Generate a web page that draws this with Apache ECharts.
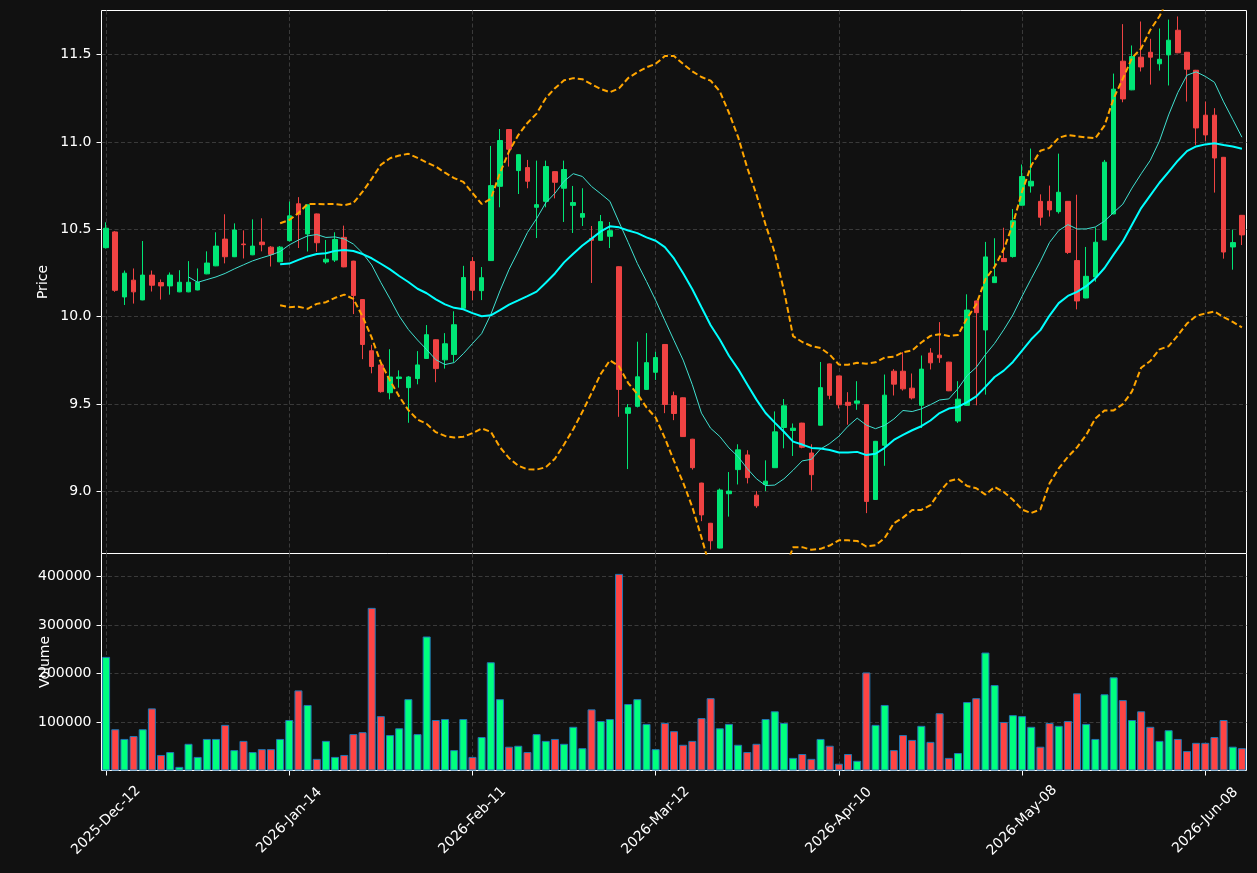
<!DOCTYPE html>
<html>
<head>
<meta charset="utf-8">
<script src="https://cdn.jsdelivr.net/npm/echarts@6/dist/echarts.min.js"></script>
<style>
html,body{margin:0;padding:0;background:#111111;}
#chart{width:1257px;height:873px;}
</style>
</head>
<body>
<div id="chart"></div>
<script>
// ---- data ----
const opens = [10.395,10.485,10.113,10.209,10.096,10.238,10.195,10.176,10.142,10.142,
10.153,10.245,10.291,10.444,10.343,10.416,10.354,10.427,10.398,10.314,
10.435,10.646,10.473,10.588,10.313,10.324,10.454,10.318,10.098,9.805,
9.724,9.565,9.646,9.594,9.646,9.761,9.868,9.753,9.784,10.048,
10.316,10.149,10.321,10.746,11.071,10.836,10.853,10.626,10.660,10.830,
10.735,10.637,10.569,10.448,10.437,10.460,10.286,9.447,9.487,9.584,
9.682,9.841,9.548,9.536,9.299,9.048,8.818,8.676,8.987,9.125,
9.209,8.979,9.040,9.136,9.366,9.349,9.391,9.220,9.379,9.730,
9.661,9.510,9.505,9.497,8.954,9.264,9.688,9.688,9.591,9.493,
9.792,9.780,9.740,9.403,9.493,10.090,9.924,10.195,10.333,10.344,
10.638,10.748,10.660,10.660,10.601,10.660,10.321,10.107,10.227,10.439,
10.588,11.462,11.298,11.485,11.513,11.447,11.498,11.639,11.513,11.410,
11.153,11.153,10.912,10.399,10.580];
const closes = [10.506,10.151,10.249,10.142,10.238,10.180,10.176,10.238,10.197,10.197,
10.197,10.307,10.404,10.343,10.496,10.412,10.404,10.412,10.356,10.398,
10.577,10.584,10.640,10.423,10.329,10.442,10.285,10.121,9.841,9.715,
9.571,9.655,9.655,9.655,9.724,9.897,9.703,9.845,9.954,10.224,
10.151,10.223,10.750,11.008,10.958,10.927,10.775,10.641,10.859,10.769,
10.842,10.653,10.590,10.437,10.544,10.492,9.584,9.479,9.656,9.737,
9.766,9.498,9.446,9.314,9.136,8.866,8.718,9.008,9.002,9.238,
9.079,8.918,9.059,9.341,9.490,9.362,9.253,9.096,9.594,9.550,
9.496,9.493,9.518,8.943,9.287,9.551,9.614,9.587,9.535,9.700,
9.736,9.765,9.576,9.528,10.038,10.023,10.342,10.228,10.315,10.549,
10.802,10.775,10.569,10.611,10.712,10.368,10.090,10.231,10.426,10.884,
11.302,11.246,11.489,11.429,11.485,11.473,11.582,11.510,11.416,11.080,
11.040,10.908,10.370,10.424,10.468];
const lows = [10.390,10.142,10.067,10.075,10.094,10.144,10.098,10.126,10.140,10.140,
10.151,10.243,10.289,10.305,10.341,10.333,10.352,10.374,10.287,10.312,
10.430,10.393,10.373,10.371,10.303,10.313,10.283,10.015,9.757,9.676,
9.565,9.527,9.594,9.393,9.613,9.759,9.625,9.703,9.741,10.046,
10.094,10.095,10.319,10.626,10.859,10.702,10.735,10.450,10.626,10.677,
10.542,10.479,10.519,10.193,10.435,10.393,9.427,9.128,9.481,9.582,
9.638,9.448,9.408,9.312,9.125,8.830,8.667,8.674,8.856,9.040,
9.046,8.906,9.002,9.134,9.247,9.203,9.247,9.006,9.377,9.527,
9.475,9.382,9.467,8.876,8.952,9.147,9.549,9.577,9.526,9.363,
9.698,9.736,9.574,9.392,9.491,9.493,9.554,10.193,10.313,10.338,
10.636,10.710,10.521,10.573,10.590,10.359,10.042,10.105,10.200,10.437,
10.586,11.227,11.296,11.403,11.328,11.408,11.323,11.508,11.231,10.983,
11.006,10.710,10.332,10.269,10.410];
const highs = [10.540,10.490,10.264,10.276,10.433,10.264,10.213,10.253,10.266,10.318,
10.276,10.374,10.483,10.586,10.534,10.494,10.557,10.563,10.404,10.404,
10.659,10.684,10.642,10.590,10.439,10.483,10.521,10.320,10.100,9.839,
9.726,9.814,9.693,9.660,9.803,9.952,9.870,9.906,10.031,10.291,
10.341,10.284,10.977,11.074,11.073,10.929,10.897,10.893,10.893,10.832,
10.893,10.748,10.735,10.519,10.582,10.542,10.288,9.500,9.857,9.906,
9.799,9.843,9.571,9.538,9.301,9.050,8.820,9.017,9.111,9.270,
9.236,9.002,9.178,9.458,9.529,9.389,9.393,9.270,9.741,9.732,
9.662,9.568,9.631,9.499,9.289,9.669,9.700,9.797,9.675,9.778,
9.820,9.969,9.742,9.631,10.128,10.092,10.428,10.449,10.509,10.616,
10.871,10.962,10.700,10.750,10.933,10.662,10.698,10.399,10.510,10.897,
11.391,11.674,11.552,11.689,11.590,11.649,11.700,11.718,11.515,11.412,
11.231,11.193,10.914,10.498,10.582];
const volumes = [234000,85000,65000,71000,85000,128000,32000,38000,7500,55000,
28000,65000,65000,94000,42000,61000,38000,44000,44000,65000,
104000,165000,135000,24000,61000,28000,32000,75000,79000,335000,
112000,73000,87000,147000,75000,276000,104000,106000,42000,106000,
28000,69000,223000,147000,49000,51000,38000,75000,61000,65000,
55000,90000,46000,126000,102000,106000,405000,137000,147000,96000,
44000,98000,81000,53000,61000,108000,149000,87000,96000,53000,
38000,55000,106000,122000,98000,26000,34000,24000,65000,51000,
14000,34000,20000,202000,94000,135000,42000,73000,63000,92000,
59000,118000,26000,36000,141000,149000,243000,176000,100000,114000,
112000,90000,49000,98000,92000,102000,159000,96000,65000,157000,
192000,145000,104000,122000,90000,61000,83000,65000,40000,57000,
57000,69000,104000,49000,46000];
const startDate = '2025-12-12';
const holidays = ['2025-12-25','2025-12-26','2026-01-01','2026-02-16','2026-04-03','2026-05-25'];
const monthNames = ['Jan','Feb','Mar','Apr','May','Jun','Jul','Aug','Sep','Oct','Nov','Dec'];

// ---- category dates (trading days) ----
function tradingDays(startISO, count) {
  const out = [];
  const d = new Date(startISO + 'T00:00:00Z');
  while (out.length < count) {
    const dow = d.getUTCDay();
    const iso = d.toISOString().slice(0, 10);
    if (dow !== 0 && dow !== 6 && holidays.indexOf(iso) < 0) {
      out.push(d.getUTCFullYear() + '-' + monthNames[d.getUTCMonth()] + '-' + String(d.getUTCDate()).padStart(2, '0'));
    }
    d.setUTCDate(d.getUTCDate() + 1);
  }
  return out;
}
const dates = tradingDays(startDate, closes.length);

// ---- indicators derived from the closes ----
function sma(arr, n) {
  return arr.map((v, i) => {
    if (i < n - 1) return '-';
    let s = 0;
    for (let k = i - n + 1; k <= i; k++) s += arr[k];
    return +(s / n).toFixed(4);
  });
}
function stdev(arr, n) {
  return arr.map((v, i) => {
    if (i < n - 1) return '-';
    let s = 0;
    for (let k = i - n + 1; k <= i; k++) s += arr[k];
    const m = s / n;
    let q = 0;
    for (let k = i - n + 1; k <= i; k++) q += (arr[k] - m) * (arr[k] - m);
    return Math.sqrt(q / (n - 1));
  });
}
const ma10 = sma(closes, 10);
const ma20 = sma(closes, 20);
const sd20 = stdev(closes, 20);
const upper = ma20.map((m, i) => m === '-' ? '-' : +(m + 2 * sd20[i]).toFixed(4));
const lower = ma20.map((m, i) => m === '-' ? '-' : +(m - 2 * sd20[i]).toFixed(4));
const candles = opens.map((o, i) => [o, closes[i], lows[i], highs[i]]);

const UP = '#00e676', DOWN = '#ef4343';
const VUP = '#00ff7f', VDOWN = '#ff4444';
const gridLineStyle = {color: '#3a3a3a', type: [4, 2.5], width: 1};
const FONT = 'DejaVu Sans';

const chart = echarts.init(document.getElementById('chart'), null, {renderer: 'canvas'});
chart.setOption({
  backgroundColor: '#111111',
  animation: false,
  textStyle: {fontFamily: FONT},
  grid: [
    {left: 101.5, top: 10.5, width: 1145, height: 543, show: true, borderColor: '#ffffff', borderWidth: 1, backgroundColor: '#111111'},
    {left: 101.5, top: 553.5, width: 1145, height: 217, show: true, borderColor: '#ffffff', borderWidth: 1, backgroundColor: '#111111'}
  ],
  xAxis: [
    {type: 'category', gridIndex: 0, data: dates, boundaryGap: true,
     axisLine: {show: false}, axisTick: {show: false}, axisLabel: {show: false},
     splitLine: {show: true, interval: 19, alignWithLabel: true, lineStyle: gridLineStyle}},
    {type: 'category', gridIndex: 1, data: dates, boundaryGap: true,
     axisLine: {show: false},
     axisTick: {show: true, interval: 19, alignWithLabel: true, length: 5, lineStyle: {color: '#ffffff'}},
     axisLabel: {interval: 19, rotate: 45, align: 'center', verticalAlign: 'middle', margin: 50,
                 color: '#ffffff', fontSize: 14, fontFamily: FONT},
     splitLine: {show: true, interval: 19, alignWithLabel: true, lineStyle: gridLineStyle}}
  ],
  yAxis: [
    {type: 'value', gridIndex: 0, min: 8.645, max: 11.752, scale: true,
     name: 'Price', nameLocation: 'middle', nameGap: 51, nameMoveOverlap: false,
     nameTextStyle: {color: '#ffffff', fontSize: 14, fontFamily: FONT},
     axisLine: {show: false},
     axisTick: {show: true, length: 5, lineStyle: {color: '#ffffff'}},
     axisLabel: {color: '#ffffff', fontSize: 14, fontFamily: FONT, margin: 10,
                 showMinLabel: false, showMaxLabel: false,
                 formatter: v => v.toFixed(1)},
     splitLine: {show: true, showMinLine: false, showMaxLine: false, lineStyle: gridLineStyle}},
    {type: 'value', gridIndex: 1, min: 0, max: 447000, interval: 100000,
     name: 'Volume', nameLocation: 'middle', nameGap: 49, nameMoveOverlap: false,
     nameTextStyle: {color: '#ffffff', fontSize: 14, fontFamily: FONT},
     axisLine: {show: false},
     axisTick: {show: true, length: 5, lineStyle: {color: '#ffffff'}},
     axisLabel: {color: '#ffffff', fontSize: 14, fontFamily: FONT, margin: 10,
                 showMinLabel: false, showMaxLabel: false,
                 formatter: v => String(v)},
     splitLine: {show: true, showMinLine: false, showMaxLine: false, lineStyle: gridLineStyle}}
  ],
  series: [
    {type: 'candlestick', xAxisIndex: 0, yAxisIndex: 0, data: candles, barWidth: 5,
     itemStyle: {color: UP, color0: DOWN, borderColor: UP, borderColor0: DOWN, borderWidth: 1}},
    {type: 'line', xAxisIndex: 0, yAxisIndex: 0, data: ma10, showSymbol: false, symbol: 'none',
     lineStyle: {color: '#40e0d0', width: 1}},
    {type: 'line', xAxisIndex: 0, yAxisIndex: 0, data: ma20, showSymbol: false, symbol: 'none',
     lineStyle: {color: '#00ffff', width: 2}},
    {type: 'line', xAxisIndex: 0, yAxisIndex: 0, data: upper, showSymbol: false, symbol: 'none',
     lineStyle: {color: '#ffa500', width: 2, type: [6, 3]}},
    {type: 'line', xAxisIndex: 0, yAxisIndex: 0, data: lower, showSymbol: false, symbol: 'none',
     lineStyle: {color: '#ffa500', width: 2, type: [6, 3]}},
    {type: 'bar', xAxisIndex: 1, yAxisIndex: 1, data: volumes, barWidth: 8,
     itemStyle: {color: p => closes[p.dataIndex] > opens[p.dataIndex] ? VUP : VDOWN,
                 borderColor: '#1f77b4', borderWidth: 1}}
  ]
});
</script>
</body>
</html>
